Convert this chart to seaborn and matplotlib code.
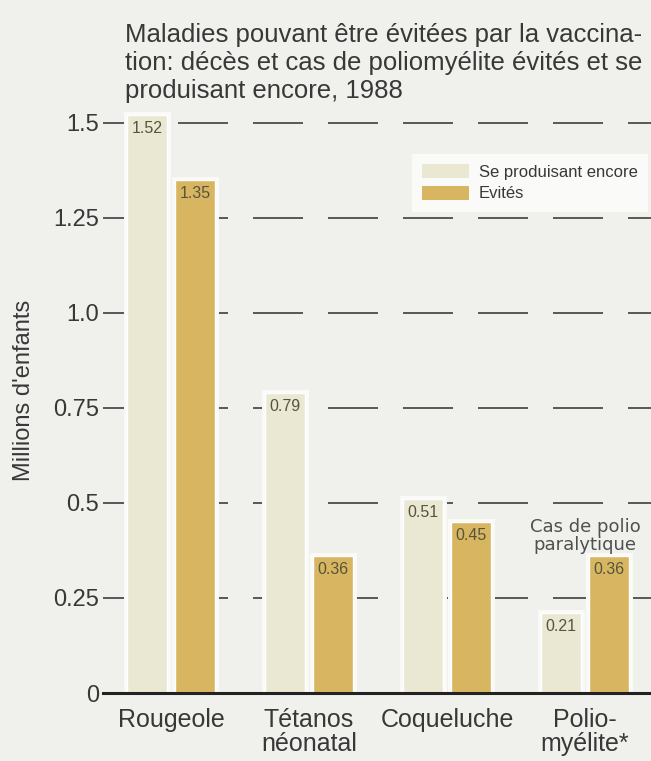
import matplotlib
matplotlib.use("Agg")
import matplotlib.pyplot as plt
import matplotlib.patheffects as pe
from matplotlib.patches import Patch
import pandas as pd
import seaborn as sns

# --- data -------------------------------------------------------------
maladies = ["Rougeole", "Tétanos\nnéonatal", "Coqueluche", "Polio-\nmyélite*"]
encore = [1.52, 0.79, 0.51, 0.21]      # Se produisant encore
evites = [1.35, 0.36, 0.45, 0.36]      # Evités
series = ["Se produisant encore", "Evités"]
yticks = [0, 0.25, 0.5, 0.75, 1.0, 1.25, 1.5]
ytick_labels = ["0", "0.25", "0.5", "0.75", "1.0", "1.25", "1.5"]

df = pd.DataFrame({
    "maladie": maladies * 2,
    "valeur": encore + evites,
    "serie": [series[0]] * 4 + [series[1]] * 4,
})

# --- style ------------------------------------------------------------
sns.set_style("white")
plt.rcParams["font.family"] = ["Liberation Sans", "DejaVu Sans"]
plt.rcParams["lines.scale_dashes"] = False

BG = "#f0f0ec"
HALO = "#fafaf8"
BEIGE = "#eae8d2"
GOLD = "#d8b661"
TXT = "#383838"

W, H = 651, 761
fig = plt.figure(figsize=(W / 100, H / 100), dpi=100, facecolor=BG)
ax = fig.add_axes([103 / W, (H - 693) / H, (W - 103) / W, (693 - 108) / H])
ax.set_facecolor(BG)

sns.barplot(data=df, x="maladie", y="valeur", hue="serie",
            palette=[BEIGE, GOLD], saturation=1, width=0.69, gap=0.16,
            legend=False, ax=ax, zorder=2)

ax.set_xlim(-0.494, 3.479)
ax.set_ylim(0, 1.539)

# soft white halo around every bar, cutting the dashed grid
for p in ax.patches:
    p.set_path_effects([pe.Stroke(linewidth=5, foreground=HALO), pe.Normal()])

# value labels just inside the top of each bar
for container, vals in zip(ax.containers, [encore, evites]):
    for p, v in zip(container, vals):
        ax.text(p.get_x() + p.get_width() / 2, v - 0.016, f"{v:.2f}",
                ha="center", va="top", fontsize=11.5,
                color="#56543c", zorder=3)

# dashed horizontal grid
ax.set_axisbelow(True)
ax.yaxis.grid(True, linestyle=(0, (36, 18)), linewidth=1.2, color="#3e3e3e")
ax.xaxis.grid(False)

ax.set_yticks(yticks)
ax.set_yticklabels(ytick_labels)
ax.tick_params(axis="y", direction="in", length=11, width=1.2, color="#555555",
               pad=3, labelsize=17, labelcolor=TXT)
ax.tick_params(axis="x", length=0, pad=11, labelsize=18, labelcolor=TXT)
for lbl in ax.get_xticklabels():
    lbl.set_linespacing(1.0)

ax.set_xlabel("")
ax.set_ylabel("")
for side in ["top", "right", "left"]:
    ax.spines[side].set_visible(False)
ax.spines["bottom"].set_color("#222222")
ax.spines["bottom"].set_linewidth(2.2)

# legend
handles = [Patch(facecolor=BEIGE, edgecolor="none"),
           Patch(facecolor=GOLD, edgecolor="none")]
leg = ax.legend(handles, series, loc="upper left",
                bbox_to_anchor=(404 / W, (H - 146) / H),
                bbox_transform=fig.transFigure,
                frameon=True, facecolor=HALO, edgecolor="none", framealpha=1,
                fancybox=False, handlelength=2.8, handleheight=0.9,
                handletextpad=0.6, labelspacing=0.35, borderpad=0.6,
                prop={"size": 12})
for t in leg.get_texts():
    t.set_color(TXT)
leg.set_zorder(4)

# note above the polio bars
ax.text(3.0, 0.413, "Cas de polio\nparalytique", ha="center", va="center",
        fontsize=13, family=["DejaVu Sans"], color="#505050",
        linespacing=1.05, zorder=3)

# title and axis label
fig.text(125 / W, (H - 23) / H,
         "Maladies pouvant être évitées par la vaccina-\n"
         "tion: décès et cas de poliomyélite évités et se\n"
         "produisant encore, 1988",
         ha="left", va="top", fontsize=18.5, color=TXT, linespacing=1.22)
fig.text(24 / W, (H - 390) / H, "Millions d'enfants", rotation=90,
         ha="center", va="center", fontsize=17, color=TXT)

fig.savefig("out.png", dpi=100, facecolor=BG)
